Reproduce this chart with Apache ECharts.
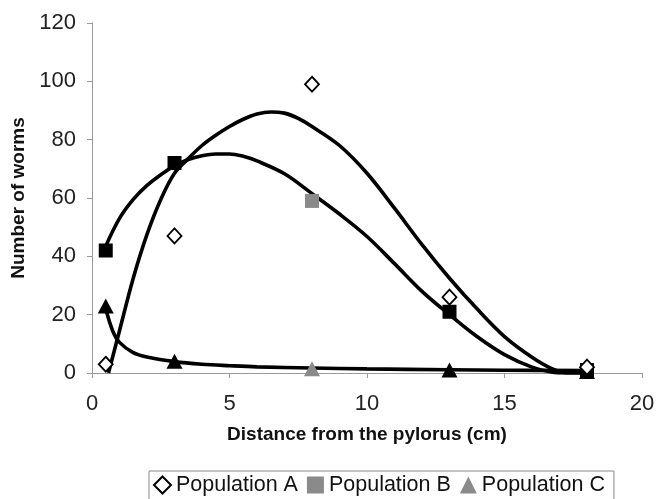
<!DOCTYPE html>
<html>
<head>
<meta charset="utf-8">
<script src="https://cdn.jsdelivr.net/npm/echarts@6/dist/echarts.min.js"></script>
<style>
html,body{margin:0;padding:0;background:#fff;}
#chart{width:656px;height:499px;}
</style>
</head>
<body>
<div id="chart"></div>
<script>
// Sample distances (cm)
var distances = [0.5, 3, 8, 13, 18];
// Observed worm counts
var popA = [3, 47, 99, 26, 2];
var popB = [42, 72, 59, 21, 1];
var popC = [23, 4, 1.5, 1, 0.5];

// Trend curves
var trendAx = [0.6, 1, 1.5, 2, 2.5, 3, 3.5, 4, 4.5, 5, 5.5, 6, 6.5, 7, 7.5, 8, 9, 10, 11, 12, 13, 14, 15, 16, 16.7, 17.3, 18];
var trendAy = [0, 14.5, 32.5, 47.5, 59.5, 68.5, 73.5, 78, 81.5, 84.5, 87, 88.8, 89.5, 89.1, 87.3, 84.5, 78, 68.5, 56.5, 44, 32.5, 22, 12.5, 5.4, 1.6, 0, 0];
var trendBx = [0.5, 1, 1.5, 2, 2.5, 3, 3.5, 4, 4.5, 5, 5.5, 6, 7, 8, 9, 10, 11, 12, 13, 14, 15, 16, 16.8, 17.2, 18];
var trendBy = [43.5, 53, 59.5, 64.3, 68, 71, 73.2, 74.5, 75.1, 75.1, 74.3, 72.7, 68.3, 61.5, 54.5, 46.8, 37.5, 28, 20, 12.5, 6.3, 2, 0.2, 0, 0];
var trendCx = [0.5, 0.75, 1, 1.5, 2, 3, 4, 5, 6, 8, 10, 13, 15, 18];
var trendCy = [22, 14.5, 10.5, 7, 5.5, 3.9, 3, 2.5, 2.1, 1.7, 1.4, 1.1, 0.95, 0.8];

// Axis ticks
var xTicks = [0, 5, 10, 15, 20];
var yTicks = [0, 20, 40, 60, 80, 100, 120];

var seriesNames = ['Population A', 'Population B', 'Population C'];
var highlightIndex = 2; // the 8 cm sample drawn in grey

function pairs(xs, ys) {
  return xs.map(function (x, i) { return [x, ys[i]]; });
}
function pointData(ys, normalColor, specialColor) {
  return distances.map(function (x, i) {
    return { value: [x, ys[i]], itemStyle: { color: i === highlightIndex ? specialColor : normalColor } };
  });
}

var FONT = 'Liberation Sans, Arial, sans-serif';
var lineStyleCommon = { color: '#000', width: 3.6 };

var chart = echarts.init(document.getElementById('chart'), null, { renderer: 'canvas' });
chart.setOption({
  animation: false,
  backgroundColor: '#fff',
  grid: { left: 92, right: 14, top: 23, bottom: 126, containLabel: false, outerBoundsMode: 'none' },
  xAxis: {
    type: 'value', min: xTicks[0], max: xTicks[xTicks.length - 1], interval: 5,
    name: 'Distance from the pylorus (cm)', nameLocation: 'middle', nameGap: 52,
    nameTextStyle: { fontFamily: FONT, fontSize: 19, fontWeight: 'bold', color: '#111' },
    axisLine: { lineStyle: { color: '#9a9a9a', width: 1 } },
    axisTick: { show: true, inside: false, length: 5, lineStyle: { color: '#9a9a9a' } },
    axisLabel: { fontFamily: FONT, fontSize: 22, color: '#222', margin: 20 },
    splitLine: { show: false }
  },
  yAxis: {
    type: 'value', min: yTicks[0], max: yTicks[yTicks.length - 1], interval: 20,
    name: 'Number of worms', nameLocation: 'middle', nameGap: 61, nameRotate: 90,
    nameTextStyle: { fontFamily: FONT, fontSize: 19, fontWeight: 'bold', color: '#111' },
    axisLine: { show: true, lineStyle: { color: '#9a9a9a', width: 1 } },
    axisTick: { show: true, inside: false, length: 5, lineStyle: { color: '#9a9a9a' } },
    axisLabel: { fontFamily: FONT, fontSize: 22, color: '#222', margin: 16 },
    splitLine: { show: false }
  },
  legend: {
    data: seriesNames,
    left: 149, top: 471,
    orient: 'horizontal',
    itemWidth: 17, itemHeight: 17, itemGap: 9,
    padding: [3, 9, 12, 4],
    borderColor: '#8a8a8a', borderWidth: 1,
    textStyle: { fontFamily: FONT, fontSize: 21.5, color: '#111' },
    selectedMode: false
  },
  series: [
    { type: 'line', name: 'trendA', data: pairs(trendAx, trendAy), symbol: 'none', smooth: 0.35, lineStyle: lineStyleCommon, z: 2, silent: true },
    { type: 'line', name: 'trendB', data: pairs(trendBx, trendBy), symbol: 'none', smooth: 0.35, lineStyle: lineStyleCommon, z: 2, silent: true },
    { type: 'line', name: 'trendC', data: pairs(trendCx, trendCy), symbol: 'none', smooth: 0.35, lineStyle: lineStyleCommon, z: 2, silent: true },
    {
      type: 'scatter', name: seriesNames[0], symbol: 'diamond', symbolSize: [14, 15], z: 5,
      itemStyle: { color: '#fff', borderColor: '#000', borderWidth: 1.8, opacity: 1 },
      data: pairs(distances, popA)
    },
    {
      type: 'scatter', name: seriesNames[1], symbol: 'rect', symbolSize: 14, z: 4,
      itemStyle: { color: '#8a8a8a', opacity: 1 },
      data: pointData(popB, '#000', '#8a8a8a')
    },
    {
      type: 'scatter', name: seriesNames[2], symbol: 'triangle', symbolSize: [16, 15], z: 4,
      itemStyle: { color: '#8a8a8a', opacity: 1 },
      data: pointData(popC, '#000', '#8a8a8a')
    }
  ]
});
</script>
</body>
</html>
